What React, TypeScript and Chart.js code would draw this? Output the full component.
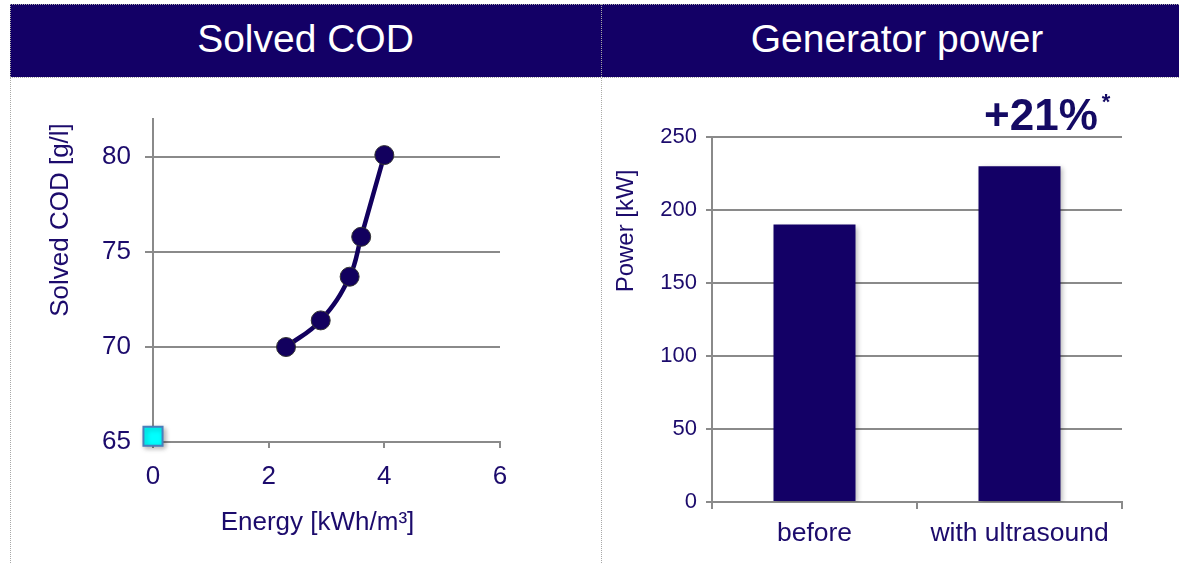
import React, { useEffect, useRef } from "react";
import { Chart, registerables } from "chart.js";

Chart.register(...registerables);

// ---- Data: Solved COD ----
const energyKWh = [2.3, 2.9, 3.4, 3.6, 4.0];
const solvedCOD = [70.0, 71.4, 73.7, 75.8, 80.1];
const referenceEnergy = [0];
const referenceCOD = [65.3];
const codTicks = [65, 70, 75, 80];

// ---- Data: Generator power ----
const powerCategories = ["before", "with ultrasound"];
const powerValues = [190, 230];

const FONT = "'Liberation Sans', Arial, Helvetica, sans-serif";
const NAVY = "#130066";
const TEXT = "#1c0b6c";
const GRID = "#8a8a8a";

type TextItem = { text: string; x: number; y: number; size: number; rotate?: number; bold?: boolean };

function textPlugin(id: string, items: TextItem[]) {
  return {
    id,
    afterDraw(chart: any) {
      const ctx = chart.ctx as CanvasRenderingContext2D;
      items.forEach((it) => {
        ctx.save();
        ctx.translate(it.x, it.y);
        if (it.rotate) ctx.rotate(it.rotate);
        ctx.font = `${it.bold ? "bold " : ""}${it.size}px ${FONT}`;
        ctx.fillStyle = TEXT;
        ctx.textAlign = "center";
        ctx.textBaseline = "middle";
        ctx.fillText(it.text, 0, 0);
        ctx.restore();
      });
    },
  };
}

function shadowPlugin(id: string, indexes: number[]) {
  return {
    id,
    beforeDatasetDraw(chart: any, args: any) {
      if (indexes.includes(args.index)) {
        const ctx = chart.ctx as CanvasRenderingContext2D;
        ctx.save();
        ctx.shadowColor = "rgba(0,0,0,0.28)";
        ctx.shadowBlur = 5;
        ctx.shadowOffsetX = 2;
        ctx.shadowOffsetY = 2;
      }
    },
    afterDatasetDraw(chart: any, args: any) {
      if (indexes.includes(args.index)) {
        chart.ctx.restore();
      }
    },
  };
}

export default function App() {
  const leftRef = useRef<HTMLCanvasElement>(null);
  const rightRef = useRef<HTMLCanvasElement>(null);

  useEffect(() => {
    const left = new Chart(leftRef.current!, {
      type: "scatter",
      data: {
        datasets: [
          {
            label: "Solved COD",
            data: energyKWh.map((x, i) => ({ x, y: solvedCOD[i] })),
            showLine: true,
            tension: 0.4,
            borderColor: "#12005e",
            borderWidth: 4.5,
            backgroundColor: "#12005e",
            pointBackgroundColor: "#12005e",
            pointBorderColor: "#333333",
            pointBorderWidth: 1,
            pointRadius: 9.5,
            clip: false as any,
          },
          {
            label: "Reference",
            data: referenceEnergy.map((x, i) => ({ x, y: referenceCOD[i] })),
            pointStyle: "rect",
            pointRadius: 13.5,
            pointBackgroundColor: "#00ffff",
            pointBorderColor: "#4a7ebb",
            pointBorderWidth: 2,
            clip: false as any,
          },
        ],
      },
      options: {
        animation: false,
        responsive: true,
        maintainAspectRatio: false,
        layout: { padding: { left: 0, top: 41, right: 101, bottom: 0 } },
        plugins: { legend: { display: false }, tooltip: { enabled: false }, title: { display: false } },
        scales: {
          x: {
            type: "linear",
            min: 0,
            max: 6,
            ticks: { stepSize: 2, color: TEXT, font: { family: FONT, size: 26 }, padding: 13 },
            grid: { drawOnChartArea: false, color: GRID, lineWidth: 2, tickLength: 6 },
            border: { color: GRID, width: 2 },
            afterFit: (s: any) => {
              s.height = 121;
            },
          },
          y: {
            type: "linear",
            min: 65,
            max: 82,
            afterBuildTicks: (axis: any) => {
              axis.ticks = codTicks.map((v) => ({ value: v }));
            },
            ticks: { color: TEXT, font: { family: FONT, size: 26 }, padding: 14 },
            grid: { color: GRID, lineWidth: 2, tickLength: 8 },
            border: { color: GRID, width: 2 },
            afterFit: (s: any) => {
              s.width = 143;
            },
          },
        },
      },
      plugins: [
        shadowPlugin("shadowL", [1]),
        textPlugin("textL", [
          { text: "Solved COD [g/l]", x: 51, y: 142, size: 26, rotate: -Math.PI / 2 },
          { text: "Energy [kWh/m³]", x: 307.5, y: 445, size: 26 },
        ]),
      ],
    } as any);

    const right = new Chart(rightRef.current!, {
      type: "bar",
      data: {
        labels: powerCategories,
        datasets: [
          {
            label: "Power",
            data: powerValues,
            backgroundColor: "#130066",
            borderWidth: 0,
            categoryPercentage: 1,
            barPercentage: 0.4,
          },
        ],
      },
      options: {
        animation: false,
        responsive: true,
        maintainAspectRatio: false,
        layout: { padding: { left: 0, top: 59, right: 57, bottom: 0 } },
        plugins: { legend: { display: false }, tooltip: { enabled: false }, title: { display: false } },
        scales: {
          x: {
            ticks: { color: TEXT, font: { family: FONT, size: 26.5 }, padding: 9 },
            grid: { drawOnChartArea: false, offset: true, color: GRID, lineWidth: 2, tickLength: 7 },
            border: { color: GRID, width: 2 },
            afterFit: (s: any) => {
              s.height = 61;
            },
          },
          y: {
            min: 0,
            max: 250,
            ticks: { stepSize: 50, color: TEXT, font: { family: FONT, size: 22 }, padding: 9 },
            grid: { color: GRID, lineWidth: 2, tickLength: 6 },
            border: { color: GRID, width: 2 },
            afterFit: (s: any) => {
              s.width = 111;
            },
          },
        },
      },
      plugins: [
        shadowPlugin("shadowR", [0]),
        textPlugin("textR", [{ text: "Power [kW]", x: 25, y: 153, size: 24, rotate: -Math.PI / 2 }]),
      ],
    } as any);

    return () => {
      left.destroy();
      right.destroy();
    };
  }, []);

  const dotted = "1px dotted #a8a8a8";

  return (
    <div
      style={{
        position: "fixed",
        left: 0,
        top: 0,
        width: 1179,
        height: 563,
        background: "#ffffff",
        overflow: "hidden",
        fontFamily: FONT,
      }}
    >
      {/* header band */}
      <div style={{ position: "absolute", left: 10, top: 4, width: 1169, height: 73, background: NAVY }} />
      <div
        style={{
          position: "absolute",
          left: 10,
          top: 4,
          width: 591,
          height: 73,
          display: "flex",
          alignItems: "center",
          justifyContent: "center",
          color: "#ffffff",
          fontSize: 39,
          paddingBottom: 4,
          boxSizing: "border-box",
        }}
      >
        Solved COD
      </div>
      <div
        style={{
          position: "absolute",
          left: 601,
          top: 4,
          width: 592,
          height: 73,
          display: "flex",
          alignItems: "center",
          justifyContent: "center",
          color: "#ffffff",
          fontSize: 39,
          paddingBottom: 4,
          boxSizing: "border-box",
        }}
      >
        Generator power
      </div>

      {/* charts */}
      <div style={{ position: "absolute", left: 10, top: 78, width: 591, height: 485 }}>
        <canvas ref={leftRef} />
      </div>
      <div style={{ position: "absolute", left: 601, top: 78, width: 578, height: 485 }}>
        <canvas ref={rightRef} />
      </div>

      {/* annotation */}
      <div
        style={{
          position: "absolute",
          left: 984,
          top: 93,
          fontSize: 44,
          lineHeight: 1,
          fontWeight: "bold",
          color: "#140a64",
          whiteSpace: "nowrap",
        }}
      >
        +21%
        <span style={{ fontSize: 22, verticalAlign: "top", position: "relative", top: -2, marginLeft: 4 }}>*</span>
      </div>

      {/* dotted frame lines */}
      <div style={{ position: "absolute", left: 10, top: 4, width: 1169, height: 0, borderTop: dotted }} />
      <div style={{ position: "absolute", left: 10, top: 77, width: 1169, height: 0, borderTop: dotted }} />
      <div style={{ position: "absolute", left: 10, top: 4, width: 0, height: 559, borderLeft: dotted }} />
      <div style={{ position: "absolute", left: 601, top: 4, width: 0, height: 559, borderLeft: dotted }} />
    </div>
  );
}
